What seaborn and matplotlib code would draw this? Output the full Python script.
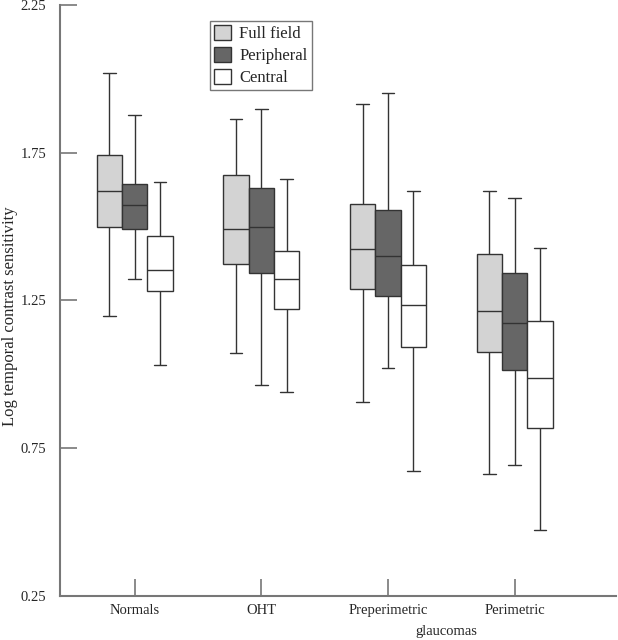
import numpy as np
import pandas as pd
import seaborn as sns
import matplotlib.pyplot as plt

sns.set_theme(style="ticks")
plt.rcParams['font.family'] = ['Liberation Serif', 'DejaVu Serif']

groups = ['Normals', 'OHT', 'Preperimetric', 'Perimetric']
fields = ['Full field', 'Peripheral', 'Central']

# five-number summaries: min, q1, median, q3, max
full_field = [
    [1.198, 1.498, 1.621, 1.741, 2.020],
    [1.072, 1.372, 1.491, 1.676, 1.864],
    [0.907, 1.288, 1.423, 1.575, 1.914],
    [0.663, 1.077, 1.216, 1.407, 1.621],
]
peripheral = [
    [1.322, 1.491, 1.572, 1.644, 1.878],
    [0.963, 1.344, 1.499, 1.630, 1.898],
    [1.023, 1.265, 1.399, 1.556, 1.954],
    [0.693, 1.015, 1.174, 1.342, 1.597],
]
central = [
    [1.033, 1.282, 1.353, 1.468, 1.651],
    [0.940, 1.220, 1.322, 1.419, 1.662],
    [0.674, 1.091, 1.234, 1.369, 1.621],
    [0.474, 0.817, 0.989, 1.180, 1.427],
]

rows = []
for fname, summ in zip(fields, [full_field, peripheral, central]):
    for g, vals in zip(groups, summ):
        for v in vals:
            rows.append({'group': g, 'field': fname, 'value': v})
df = pd.DataFrame(rows)

palette = {'Full field': '#d3d3d3', 'Peripheral': '#666666', 'Central': '#ffffff'}

fig = plt.figure(figsize=(6.18, 6.4), dpi=100)
ax = fig.add_axes([0.097, 0.069, 0.9, 0.923])

sns.boxplot(data=df, x='group', y='value', hue='field', order=groups,
            hue_order=fields, palette=palette, whis=(0, 100), width=0.6,
            gap=0, linecolor='#333333', linewidth=1.0, saturation=1,
            ax=ax)

ax.set_ylim(0.25, 2.25)
ax.set_xlim(-0.59, 3.8)
ax.set_yticks([0.25, 0.75, 1.25, 1.75, 2.25])
ax.set_yticklabels(['0.25', '0.75', '1.25', '1.75', '2.25'])
ax.tick_params(axis='both', direction='in', length=12, width=1.2,
               color='#777777')
ax.tick_params(axis='y', labelsize=10.5, pad=10)
ax.tick_params(axis='x', labelsize=10.5, pad=6)
ax.set_xlabel('')
ax.set_ylabel('Log temporal contrast sensitivity', fontsize=12)
ax.yaxis.set_label_coords(-0.076, 0.474)
sns.despine(ax=ax)
for s in ['left', 'bottom']:
    ax.spines[s].set_color('#777777')
    ax.spines[s].set_linewidth(1.5)
ax.text(2.46, -0.061, 'glaucomas', transform=ax.get_xaxis_transform(),
        ha='center', va='center', fontsize=10.5)

handles, labels = ax.get_legend_handles_labels()
ax.legend(handles, labels, loc='upper left', bbox_to_anchor=(0.255, 0.988),
          fontsize=12, frameon=True, fancybox=False, edgecolor='#777777',
          framealpha=1, handlelength=1.0, handleheight=1.0,
          handletextpad=0.5, borderpad=0.25, labelspacing=0.3)

fig.savefig('out.png', dpi=100)
